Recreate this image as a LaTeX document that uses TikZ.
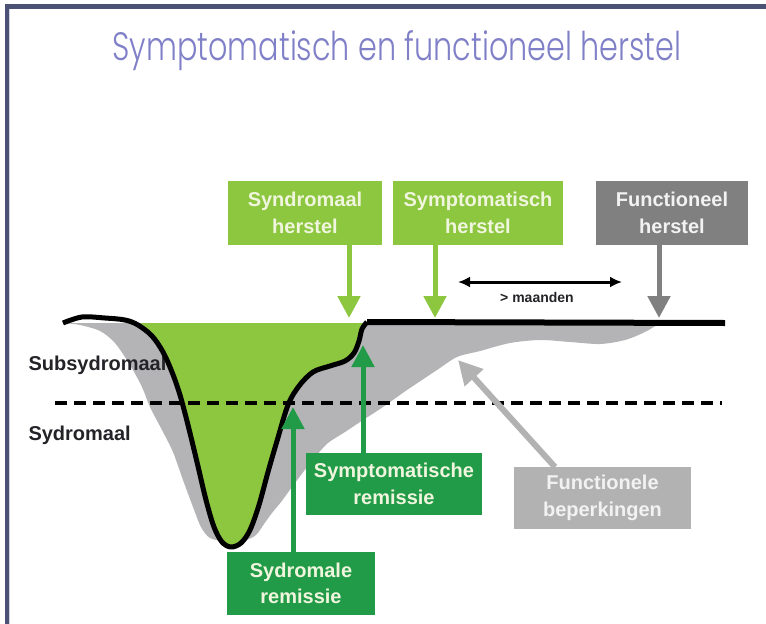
\documentclass[tikz,border=0pt]{standalone}
\usepackage{graphicx}
\usepackage{fontspec}
\setmainfont{Liberation Sans}
\newfontfamily\titlefont{Poppins Light}
\usetikzlibrary{arrows.meta}
\definecolor{lgreen}{RGB}{141,198,63}
\definecolor{dgreen}{RGB}{34,155,72}
\definecolor{areagray}{RGB}{180,180,182}
\definecolor{dgray}{RGB}{128,128,128}
\definecolor{lgray}{RGB}{178,178,178}
\definecolor{titlecol}{RGB}{128,128,200}
\definecolor{framecol}{RGB}{75,82,118}
\definecolor{boxtxt}{RGB}{240,246,222}
\definecolor{graytxt}{RGB}{242,242,242}
\definecolor{labeltxt}{RGB}{35,35,40}
\begin{document}
\begin{tikzpicture}[x=1pt,y=-1pt,
  box/.style={inner sep=0pt, align=center,
    font=\fontsize{20}{26.5}\selectfont\bfseries},
  greenbox/.style={box, fill=lgreen, text=boxtxt},
  darkbox/.style={box, fill=dgreen, text=boxtxt},
  graybox/.style={box, fill=dgray, text=graytxt},
  palebox/.style={box, fill=lgray, text=graytxt},
  bigarrow/.style={line width=5pt, -{Triangle[width=22pt,length=22pt]}},
  curveline/.style={line width=5pt, line join=round, black},
  levellabel/.style={anchor=base west, text=labeltxt,
    font=\fontsize{20}{24}\selectfont\bfseries}]
\useasboundingbox (0,0) rectangle (766,624);
\fill[white] (0,0) rectangle (766,624);
% frame
\fill[framecol] (5,4) rectangle (766,9);
\fill[framecol] (5,4) rectangle (9,624);
\fill[framecol!25] (9,9) rectangle (10,624);
% title
\node[anchor=base, text=titlecol, inner sep=0pt] (title) at (397,60)
  {\resizebox{569pt}{30pt}{\titlefont\fontsize{40}{40}\selectfont Symptomatisch en functioneel herstel}};
% gray area
\fill[areagray] plot[smooth, tension=0.5] coordinates {(63,323) (80,325) (100,331) (115,343) (130,365) (142,387) (150,407) (162,430) (173,452) (183,480) (193,507) (201,527) (210,538) (225,541) (245,540) (256,535) (264,524) (272,513) (281,502) (292,487) (304,471) (316,456) (328,443) (345,432) (360,422) (383,407) (407,390) (437,370) (457,357) (480,351) (510,343) (540,340) (570,342) (600,344) (625,340) (645,332) (660,323)} -- cycle;
% green area
\begin{scope}
\clip (0,323) rectangle (766,624);
\fill[lgreen] plot[smooth, tension=0.55] coordinates {(63,323) (82,317) (105,318) (125,320) (138,325) (152,336) (163,352) (172,372) (180,395) (188,425) (197,462) (206,500) (214,527) (222,542) (231,547) (241,543) (250,530) (259,505) (268,472) (277,441) (288,405) (299,386) (313,372) (330,366) (345,361) (354,353) (359,341) (362,329) (367,322)} -- cycle;
\end{scope}
% level labels
\node[levellabel] (sub) at (25,370) {Subsydromaal};
\node[levellabel] (syd) at (25,440) {Sydromaal};
% dashed threshold
\coordinate (d1) at (55,403);
\coordinate (d2) at (722,403);
\draw[line width=4.5pt, dash pattern=on 12pt off 7pt] (d1) -- (d2);
% black curve
\coordinate (linestart) at (367,322);
\coordinate (lineend) at (725,323);
\draw[curveline] plot[smooth, tension=0.55] coordinates {(63,323) (82,317) (105,318) (125,320) (138,325) (152,336) (163,352) (172,372) (180,395) (188,425) (197,462) (206,500) (214,527) (222,542) (231,547) (241,543) (250,530) (259,505) (268,472) (277,441) (288,405) (299,386) (313,372) (330,366) (345,361) (354,353) (359,341) (362,329) (367,322)};
\draw[line width=6pt, black] (linestart) -- (lineend);
% top boxes
\node[greenbox, minimum width=154pt, minimum height=64pt] (b1) at (305,213) {Syndromaal\\herstel};
\node[greenbox, minimum width=170pt, minimum height=64pt] (b2) at (478,213) {Symptomatisch\\herstel};
\node[graybox, minimum width=152pt, minimum height=64pt] (b3) at (672,213) {Functioneel\\herstel};
% bottom boxes
\node[darkbox, minimum width=176pt, minimum height=62pt] (b4) at (394,484) {Symptomatische\\remissie};
\node[darkbox, minimum width=148pt, minimum height=63pt] (b5) at (301,583.5) {Sydromale\\remissie};
\node[palebox, minimum width=177pt, minimum height=62pt] (b6) at (602.5,498) {Functionele\\beperkingen};
% arrow tips
\coordinate (t1) at (349,318);
\coordinate (t2) at (435,318);
\coordinate (t3) at (659,318);
\coordinate (t4) at (363,345);
\coordinate (t5) at (293,407);
\coordinate (t6) at (458,360);
\coordinate (s6) at (555,467);
\draw[bigarrow, lgreen] (b1.south -| t1) -- (t1);
\draw[bigarrow, lgreen] (b2.south -| t2) -- (t2);
\draw[bigarrow, dgray] (b3.south -| t3) -- (t3);
\draw[bigarrow, dgreen] (b4.north -| t4) -- (t4);
\draw[bigarrow, dgreen] (b5.north -| t5) -- (t5);
\draw[line width=6pt, lgray, -{Triangle[width=24pt,length=24pt]}] (s6) -- (t6);
% months arrow
\coordinate (m1) at (458,282);
\coordinate (m2) at (622,282);
\draw[line width=3pt, {Latex[width=11pt,length=12pt]}-{Latex[width=11pt,length=12pt]}] (m1) -- (m2);
\node[anchor=base, inner sep=0pt, text=labeltxt, font=\fontsize{14}{16}\selectfont\bfseries] (maanden) at (537,302) {> maanden};
\end{tikzpicture}
\end{document}
